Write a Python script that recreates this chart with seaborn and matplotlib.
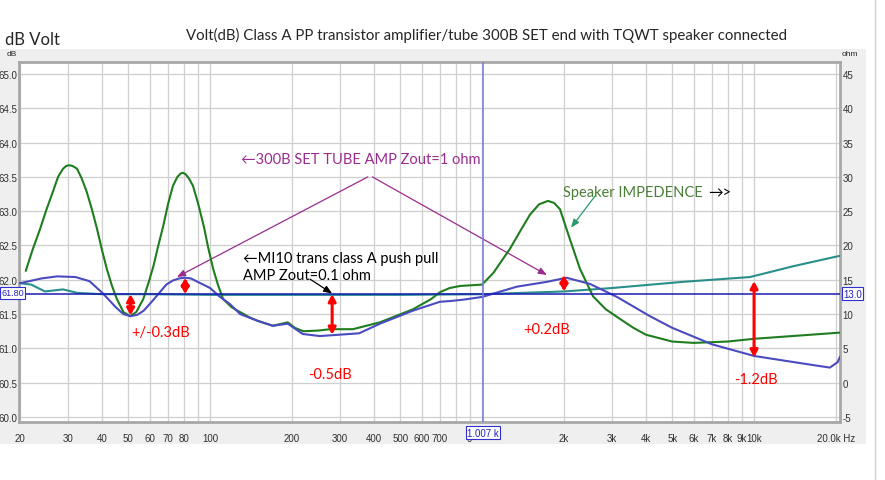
import numpy as np
import pandas as pd
import matplotlib
matplotlib.use("Agg")
import matplotlib.pyplot as plt
from matplotlib.patches import Rectangle
from matplotlib.lines import Line2D
import seaborn as sns

# --- data (Hz, dB) ---
green_f = [21, 22.3, 23.7, 25, 26.4, 27.6, 28.8, 29.6, 30.3, 31.2, 32.4, 33.7, 35.2, 36.8, 38.4,
           40, 41.7, 43.5, 45.4, 48, 50.8, 53.5, 56.8, 59.3, 61.9, 64.5, 67.2, 70, 73.0, 75.8,
           78, 79.5, 81.2, 83.5, 86.5, 90.5, 94.8, 98.5, 102.6, 107, 111.6, 120, 128.8, 140, 150,
           170, 193, 205, 220, 250, 276, 335, 421, 557, 650, 700, 760, 830, 1000, 1100, 1265,
           1400, 1500, 1620, 1747, 1840, 1933, 2100, 2290, 2557, 2850, 3213, 3600, 4000, 5000,
           6000, 8000, 10000, 15000, 20700]
green_db = [62.13, 62.45, 62.74, 63.02, 63.28, 63.5, 63.62, 63.66, 63.67, 63.66, 63.62, 63.48,
            63.28, 63.02, 62.74, 62.44, 62.16, 61.92, 61.72, 61.53, 61.47, 61.53, 61.72, 61.95,
            62.2, 62.5, 62.78, 63.1, 63.37, 63.5, 63.55, 63.56, 63.54, 63.48, 63.37, 63.1, 62.78,
            62.46, 62.16, 61.92, 61.72, 61.6, 61.53, 61.45, 61.4, 61.33, 61.38, 61.3, 61.25,
            61.26, 61.28, 61.28, 61.38, 61.57, 61.72, 61.82, 61.88, 61.91, 61.93, 62.1, 62.45,
            62.75, 62.95, 63.1, 63.15, 63.12, 63.03, 62.6, 62.16, 61.76, 61.57, 61.43, 61.3,
            61.2, 61.1, 61.08, 61.1, 61.14, 61.19, 61.23]

set_f = [20, 24, 27.4, 32, 36, 40.4, 45, 48, 51, 54, 57, 61, 65.4, 69, 73, 77, 81, 85, 90, 100,
         108, 118, 129, 150, 170, 193, 219, 253, 300, 353, 421, 557, 700, 762, 851, 1000, 1343,
         1730, 2044, 2491, 3133, 4140, 5000, 7000, 10000, 14000, 19000, 20300, 20700]
set_db = [61.95, 62.02, 62.05, 62.04, 61.98, 61.8, 61.6, 61.5, 61.47, 61.49, 61.55, 61.68,
          61.82, 61.93, 61.99, 62.02, 62.03, 62.02, 61.97, 61.88, 61.76, 61.65, 61.5, 61.4,
          61.33, 61.36, 61.21, 61.18, 61.2, 61.22, 61.36, 61.55, 61.68, 61.69, 61.71, 61.75,
          61.9, 61.97, 62.03, 61.94, 61.75, 61.47, 61.3, 61.06, 60.89, 60.8, 60.72, 60.8, 60.88]

mi10_f = [20, 22, 24.7, 28.8, 32.4, 40, 60, 100, 200, 500, 1000, 2000, 3000, 5475, 9660, 14000, 20700]
mi10_db = [61.95, 61.93, 61.83, 61.86, 61.81, 61.79, 61.79, 61.78, 61.78, 61.78, 61.79, 61.83,
           61.88, 61.97, 62.04, 62.2, 62.35]

ref_db = 61.8
cursor_hz = 1007

# red double arrows: (freq, from dB, to dB)
red_arrows = [(51, 61.79, 61.48), (81, 62.03, 61.79), (281, 61.79, 61.2),
              (2000, 62.07, 61.83), (10000, 61.98, 60.87)]
red_labels = ["+/-0.3dB", "-0.5dB", "+0.2dB", "-1.2dB"]
red_label_pos = [(66, 61.24), (276, 60.63), (1731, 61.28), (10160, 60.55)]

x_ticks = [20, 30, 40, 50, 60, 70, 80, 90, 100, 200, 300, 400, 500, 600, 700, 800, 900, 1000,
           2000, 3000, 4000, 5000, 6000, 7000, 8000, 9000, 10000, 20000]
x_labels = ["20", "30", "40", "50", "60", "70", "80", "", "100", "200", "300", "400", "500",
            "600", "700", "", "9", "", "2k", "3k", "4k", "5k", "6k", "7k", "8k", "9k", "10k",
            "20.0k Hz"]
y_ticks = [60.0, 60.5, 61.0, 61.5, 62.0, 62.5, 63.0, 63.5, 64.0, 64.5, 65.0]
ohm_ticks = [-5, 0, 5, 10, 15, 20, 25, 30, 35, 40, 45]

sns.set_style("white")
plt.rcParams['font.family'] = ['Lato', 'DejaVu Sans']

fig = plt.figure(figsize=(8.85, 4.81), dpi=100)
W, H = 885, 481
# grey panel behind the plot like the measurement software
fig.patches.append(Rectangle((0, 1 - 445 / H), 866 / W, (445 - 50) / H, transform=fig.transFigure,
                             facecolor='#efefef', edgecolor='none', zorder=-5))
fig.lines.append(Line2D([875 / W, 875 / W], [0, 1], transform=fig.transFigure, color='#cfcfcf',
                        lw=1, zorder=-5))

ax = fig.add_axes([19 / W, 1 - 423 / H, (840 - 19) / W, (423 - 63) / H])
ax.set_facecolor('white')

df_green = pd.DataFrame({"f": green_f, "db": green_db})
df_set = pd.DataFrame({"f": set_f, "db": set_db})
df_mi10 = pd.DataFrame({"f": mi10_f, "db": mi10_db})

sns.lineplot(data=df_mi10, x="f", y="db", ax=ax, color='#2a8f8a', lw=1.5, zorder=3)
sns.lineplot(data=df_green, x="f", y="db", ax=ax, color='#1f7d1f', lw=1.5, zorder=4)
sns.lineplot(data=df_set, x="f", y="db", ax=ax, color='#4b4bc0', lw=1.5, zorder=5)
ax.axhline(ref_db, color='#1a1ab8', lw=1.1, zorder=6)
ax.axvline(cursor_hz, color='#7f7fe0', lw=1.2, zorder=6)

ax.set_xscale('log')
ax.set_xlim(19.83, 20700)
ax.set_ylim(59.927, 65.175)
ax.set_xticks(x_ticks)
ax.set_xticklabels(x_labels)
ax.xaxis.set_minor_locator(matplotlib.ticker.NullLocator())
ax.set_yticks(y_ticks)
ax.set_yticklabels([f"{v:.1f}" for v in y_ticks])
ax.grid(True, color='#cfcfcf', lw=0.9)
ax.set_xlabel("")
ax.set_ylabel("")
ax.tick_params(length=0, labelsize=7, pad=1)
for lab in ax.get_xticklabels() + ax.get_yticklabels():
    lab.set_family('Liberation Sans')
    lab.set_color('#303030')
for s in ax.spines.values():
    s.set_color('#a8a8a8')
    s.set_linewidth(2)
ax.tick_params(axis='x', pad=8)

ax2 = ax.twinx()
ax2.set_ylim((59.927 - ref_db) * 10 + 13, (65.175 - ref_db) * 10 + 13)
ax2.set_yticks(ohm_ticks)
ax2.set_yticklabels([str(v) for v in ohm_ticks])
ax2.tick_params(length=0, labelsize=7, pad=2)
for lab in ax2.get_yticklabels():
    lab.set_family('Liberation Sans')
    lab.set_color('#303030')
for s in ax2.spines.values():
    s.set_visible(False)

# value boxes on the cursors
box = dict(boxstyle='square,pad=0.15', fc='white', ec='#3030d0', lw=0.8)
fig.text(1.5 / W, 1 - 294 / H, "61.80", ha='left', va='center', fontsize=6.5, color='#2020c0',
         family='Liberation Sans', bbox=box, zorder=10)
ax.text(1.004, ref_db, "13.0", transform=ax.get_yaxis_transform(), ha='left', va='center',
        fontsize=7, color='#2020c0', family='Liberation Sans', bbox=box, zorder=10, clip_on=False)
ax.text(cursor_hz, -0.03, "1.007 k", transform=ax.get_xaxis_transform(), ha='center', va='center',
        fontsize=7, color='#2020c0', family='Liberation Sans', bbox=box, zorder=10, clip_on=False)

# red difference arrows and labels
for f, y0, y1 in red_arrows:
    ax.annotate("", xy=(f, y1), xytext=(f, y0),
                arrowprops=dict(arrowstyle='<|-|>,head_length=0.4,head_width=0.22', color='red',
                                lw=2.2, shrinkA=0, shrinkB=0), zorder=8)
for txt, (f, y) in zip(red_labels, red_label_pos):
    ax.text(f, y, txt, color='red', fontsize=10.5, ha='center', va='center', zorder=8)

# callouts
purple = '#9a2c8e'
ax.text(357, 63.76, "\u2190300B SET TUBE AMP Zout=1 ohm", color=purple, fontsize=10.5,
        ha='center', va='center', family=['Lato', 'DejaVu Sans'])
ax.annotate("", xy=(75.5, 62.04), xytext=(380, 63.5),
            arrowprops=dict(arrowstyle='-|>,head_length=0.5,head_width=0.2', color=purple, lw=0.9,
                            shrinkA=0, shrinkB=0))
ax.annotate("", xy=(1731, 62.07), xytext=(395, 63.5),
            arrowprops=dict(arrowstyle='-|>,head_length=0.5,head_width=0.2', color=purple, lw=0.9,
                            shrinkA=0, shrinkB=0))

ax.text(132, 62.19, "\u2190MI10 trans class A push pull\nAMP Zout=0.1 ohm", color='black',
        fontsize=10.5, ha='left', va='center', linespacing=1.3, family=['Lato', 'DejaVu Sans'])
ax.annotate("", xy=(281, 61.8), xytext=(233, 62.01),
            arrowprops=dict(arrowstyle='-|>,head_length=0.5,head_width=0.2', color='black', lw=0.9,
                            shrinkA=0, shrinkB=0))

ax.text(1982, 63.28, "Speaker IMPEDENCE", color='#4a7d36', fontsize=10.5, ha='left', va='center')
ax.text(6770, 63.28, "\u2192>", color='black', fontsize=10.5, ha='left', va='center',
        family=['Lato', 'DejaVu Sans'])
ax.annotate("", xy=(2123, 62.76), xytext=(2601, 63.22),
            arrowprops=dict(arrowstyle='-|>,head_length=0.5,head_width=0.2', color='#2a9a6a', lw=0.9,
                            shrinkA=0, shrinkB=0))

# headers
fig.text(486 / W, 1 - 35 / H, "Volt(dB) Class A PP transistor amplifier/tube 300B SET end with TQWT speaker connected",
         ha='center', va='center', fontsize=10.8)
fig.text(5 / W, 1 - 40 / H, "dB Volt", ha='left', va='center', fontsize=12)
fig.text(7 / W, 1 - 55 / H, "dB", ha='left', va='center', fontsize=6, family='Liberation Sans')
fig.text(842 / W, 1 - 55 / H, "ohm", ha='left', va='center', fontsize=6, family='Liberation Sans')

plt.savefig("out.png", dpi=100)
